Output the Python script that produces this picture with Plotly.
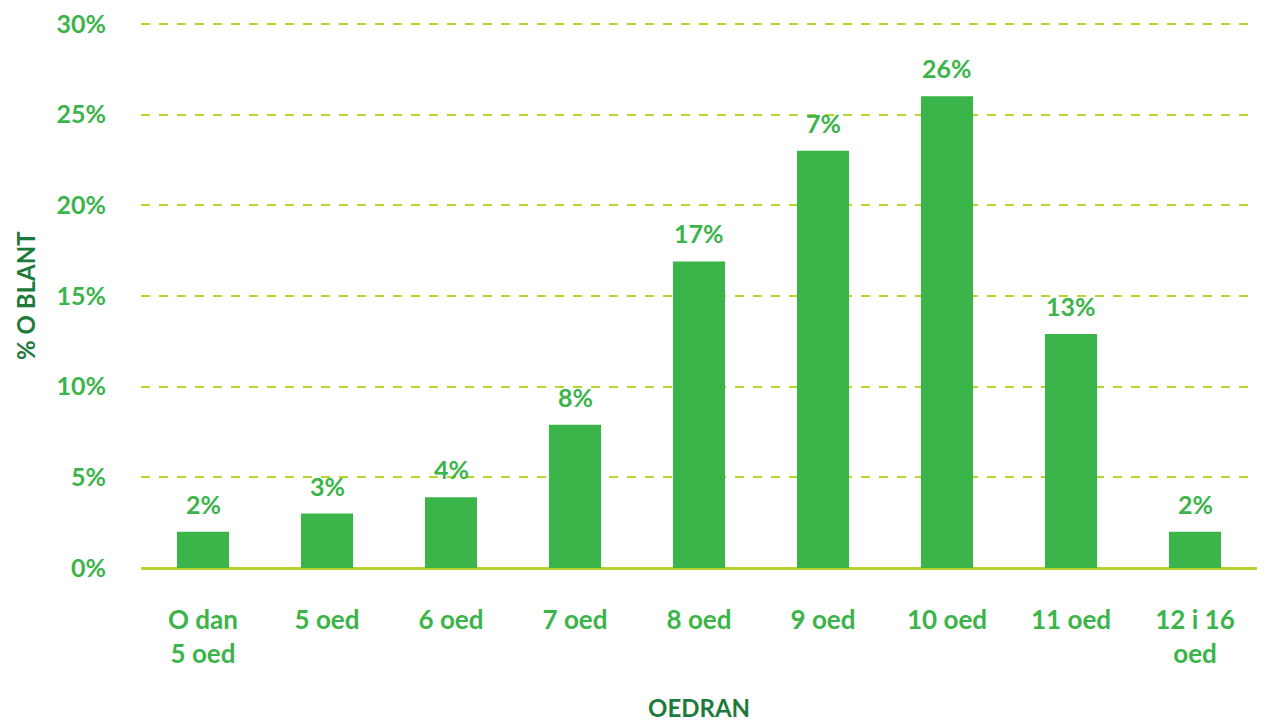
import plotly.graph_objects as go

categories = ["O dan<br>5 oed", "5 oed", "6 oed", "7 oed", "8 oed", "9 oed", "10 oed", "11 oed", "12 i 16<br>oed"]
values = [2, 3, 3.9, 7.9, 16.9, 23, 26, 12.9, 2]
value_labels = ["2%", "3%", "4%", "8%", "17%", "7%", "26%", "13%", "2%"]
y_ticks = [0, 5, 10, 15, 20, 25, 30]
y_tick_labels = ["0%", "5%", "10%", "15%", "20%", "25%", "30%"]

GREEN = "#3BB44A"
DARK = "#1E7A3A"
LIME = "#B7D432"
FONT = "Lato"

fig = go.Figure()
fig.add_trace(go.Bar(x=categories, y=values, marker=dict(color=GREEN, line=dict(width=0)),
                     hoverinfo="skip"))

for c, v, t in zip(categories, values, value_labels):
    fig.add_annotation(x=c, y=v, text=t, showarrow=False, yanchor="bottom", yshift=11,
                       font=dict(family=FONT, size=25, color=GREEN, weight="bold"))

fig.add_annotation(xref="paper", yref="paper", x=-0.104, xanchor="center", y=0.5, text="% O BLANT",
                   textangle=-90, showarrow=False,
                   font=dict(family=FONT, size=24, color=DARK, weight="bold"))
fig.add_annotation(xref="paper", yref="paper", x=0.5, y=-0.256, text="OEDRAN", yanchor="middle",
                   showarrow=False, font=dict(family=FONT, size=24, color=DARK, weight="bold"))

fig.update_layout(
    width=1257, height=716,
    margin=dict(l=133, r=8, t=14, b=156),
    plot_bgcolor="white", paper_bgcolor="white",
    bargap=0.58,
    showlegend=False,
    font=dict(family=FONT, color=GREEN),
)
fig.update_xaxes(
    showgrid=False, zeroline=False, showline=False, ticks="", automargin=False,
    tickfont=dict(family=FONT, size=26, color=GREEN, weight="bold"),
    ticklabelstandoff=34, ticklabeloverflow="allow",
)
fig.update_yaxes(
    range=[0, 30.1], tickvals=y_ticks, ticktext=y_tick_labels, automargin=False,
    showgrid=True, gridcolor=LIME, griddash="dash", gridwidth=2,
    zeroline=True, zerolinecolor=LIME, zerolinewidth=3,
    showline=False, ticks="",
    tickfont=dict(family=FONT, size=25, color=GREEN, weight="bold"),
    ticklabelstandoff=34, ticklabeloverflow="allow",
)

fig.write_html("out.html")
